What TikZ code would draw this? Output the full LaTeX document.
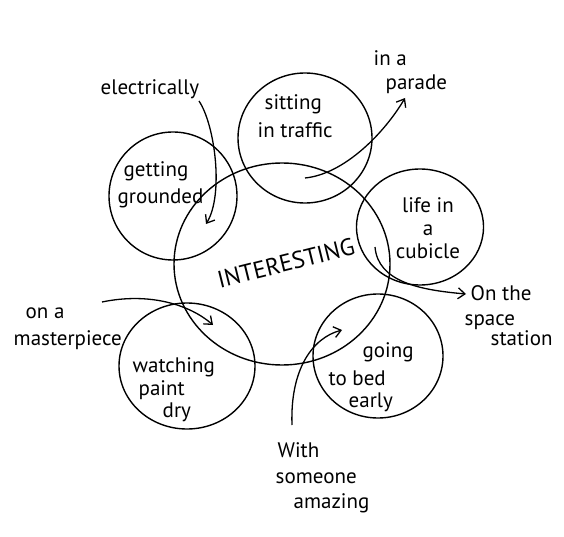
\documentclass[tikz,border=0pt]{standalone}
\usepackage{fontspec}
\setmainfont{PT Sans}
\usetikzlibrary{shapes.geometric, arrows.meta}

\begin{document}
\begin{tikzpicture}[x=1pt, y=-1pt, >={Straight Barb[length=7pt, width=11pt]}, line width=1.4pt]
    % Style definitions
    \tikzset{ring/.style={draw, ellipse, inner sep=0pt}}
    \tikzset{note/.style={align=left, anchor=base west, inner sep=0pt, font=\fontsize{21}{25}\selectfont}}
    \tikzset{arrow/.style={->, line width=1.3pt}}

    \useasboundingbox (0,0) rectangle (564,537);

    % Circles
    \node [ring, minimum width=216pt, minimum height=202pt] (dull) at (282,264) {};
    \node [ring, minimum width=128pt, minimum height=128pt] (grounded) at (173,196) {};
    \node [ring, minimum width=134pt, minimum height=130pt] (traffic) at (305,138) {};
    \node [ring, minimum width=127pt, minimum height=116pt] (cubicle) at (420,227) {};
    \node [ring, minimum width=136pt, minimum height=126pt] (paint) at (187,366) {};
    \node [ring, minimum width=130pt, minimum height=124pt] (bed) at (378,356) {};

    % Texts (anchored at the baseline of the last line)
    \node [rotate=14, font=\fontsize{24}{24}\selectfont] (interesting) at (286,263) {INTERESTING};
    \node [note] (grounded-t) at (117,204) {\hspace{6pt}getting\\[2pt]grounded};
    \node [note] (traffic-t) at (257,138) {\hspace{7pt}sitting\\[3pt]in traffic};
    \node [note, align=center, anchor=base] (cubicle-t) at (428,258) {life in\\[-3pt]a\\[-2pt]cubicle};
    \node [note] (paint-t) at (132,417) {watching\\[-2pt]\hspace{6pt}paint\\[-3pt]\hspace{30pt}dry};
    \node [note] (bed-t) at (328,407) {\hspace{34pt}going\\[3pt]to bed\\[-3pt]\hspace{20pt}early};

    \node [note] (elec) at (100,95) {electrically};
    \node [note] (parade) at (373,90) {in a\\[-1pt]\hspace{12pt}parade};
    \node [note] (master) at (13,345) {\hspace{12pt}on a\\[2pt]masterpiece};
    \node [note] (station) at (464,345) {\hspace{6pt}On the\\space\\[-5pt]\hspace{26pt}station};
    \node [note] (amazing) at (275,508) {\hspace{2pt}With\\[1pt]someone\\\hspace{18pt}amazing};

    % Arrow ends
    \coordinate (elec-start) at (199,101);
    \coordinate (elec-end) at (206,224);
    \coordinate (parade-start) at (305,178);
    \coordinate (parade-end) at (405,98);
    \coordinate (master-start) at (102,302);
    \coordinate (master-end) at (213,325);
    \coordinate (station-start) at (375,247);
    \coordinate (station-end) at (466,294);
    \coordinate (amazing-start) at (292,425);
    \coordinate (amazing-end) at (342,330);

    % Arrows
    \draw [arrow] (elec-start) .. controls (215,125) and (224,195) .. (elec-end);
    \draw [arrow] (parade-start) .. controls (345,174) and (385,132) .. (parade-end);
    \draw [arrow] (master-start) .. controls (150,292) and (190,305) .. (master-end);
    \draw [arrow] (station-start) .. controls (378,282) and (420,290) .. (station-end);
    \draw [arrow] (amazing-start) .. controls (290,370) and (312,338) .. (amazing-end);
\end{tikzpicture}
\end{document}
